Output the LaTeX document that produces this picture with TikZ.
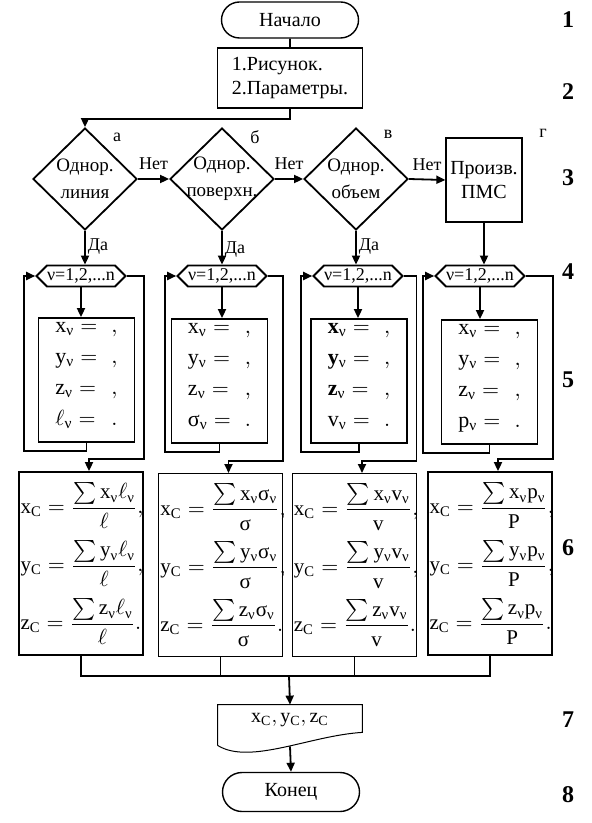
\documentclass[tikz,border=0pt]{standalone}
\usepackage{amsmath}
\usepackage{fontspec}
\setmainfont{Liberation Serif}
\usetikzlibrary{shapes.geometric,shapes.symbols,shapes.misc,arrows.meta}
\newcommand\nuv{\text{ν}}
\newcommand\sig{\text{σ}}
\newcommand\crow[4]{$\mathrm{#1}_{\mathrm{C}}=\dfrac{\sum #2}{#3}#4$}
\begin{document}
\begin{tikzpicture}[x=.5pt,y=-.5pt,>={Triangle[length=4.5pt,width=4pt]},
 every node/.style={font=\fontsize{10}{12}\selectfont,inner sep=2pt},
 thk/.style={line width=.9pt},
 thn/.style={line width=.5pt},
 term/.style={rounded rectangle,draw,line width=.7pt,minimum width=72.5pt,minimum height=18pt},
 proc/.style={rectangle,draw,thk,align=center},
 cond/.style={diamond,draw,thk,align=center,inner sep=-3pt,minimum width=52pt,minimum height=51pt,
  font=\fontsize{9.5}{13.5}\selectfont},
 cyc/.style={signal,signal to=west and east,draw,thk,inner xsep=-3pt,inner ysep=1pt,
  minimum width=44.5pt,minimum height=10.5pt,font=\fontsize{9}{10}\selectfont},
 blk/.style={rectangle,draw,thk,minimum width=48pt,minimum height=62pt},
 lst/.style={inner sep=0pt,font=\fontsize{11}{13}\selectfont},
 res/.style={rectangle,draw,thn,minimum width=62pt,minimum height=91.5pt},
 fml/.style={anchor=west,inner sep=0pt,font=\fontsize{10.5}{12.5}\selectfont},
 arr/.style={->,thk},
 tag/.style={font=\fontsize{9}{10}\selectfont,inner sep=1pt},
 num/.style={font=\fontsize{12}{14}\selectfont\bfseries}]
\useasboundingbox (0,0) rectangle (591,823);
% start and input
\node[term] (beg) at (290,20) {Начало};
\node[proc,align=left,minimum width=72.5pt,minimum height=30pt] (par) at (290,78)
 {1.Рисунок.\\2.Параметры.};
\draw[thk] (beg) -- (par);
% conditions
\node[cond] (da) at (85,179) {Однор.\\линия};
\node[cond] (db) at (222,179) {Однор.\\поверхн.};
\node[cond] (dv) at (356,179) {Однор.\\объем};
\node[proc,minimum width=32.5pt,minimum height=42pt] (dg) at (484,180) {Произв.\\ПМС};
\node[tag] (la) at (117,137) {а};
\node[tag] (lb) at (255,137) {б};
\node[tag] (lv) at (388,134) {в};
\node[tag] (lg) at (543,133) {г};
\draw[arr] (par.south) -- ++(0,10) -| (da.north);
\draw[arr] (da.east) -- node[tag,above=3pt]{Нет} (db.west);
\draw[arr] (db.east) -- node[tag,above=3pt]{Нет} (dv.west);
\draw[arr] (dv.east) -- node[tag,above=3pt]{Нет} (dg.west);
% loops
\node[cyc] (ha) at (81,276) {ν=1,2,...n};
\node[cyc] (hb) at (222,276) {ν=1,2,...n};
\node[cyc] (hv) at (358,276) {ν=1,2,...n};
\node[cyc] (hg) at (480,276) {ν=1,2,...n};
\draw[arr] (da.south) -- node[tag,right,pos=.45]{Да} (da.south |- ha.north);
\draw[arr] (db.south) -- node[tag,right,pos=.55]{Да} (db.south |- hb.north);
\draw[arr] (dv.south) -- node[tag,right,pos=.45]{Да} (dv.south |- hv.north);
\draw[arr] (dg.south) -- (dg.south |- hg.north);
\node[blk] (ra) at (86.5,380) {};
\node[blk] (rb) at (219.5,381) {};
\node[blk] (rv) at (359,381) {};
\node[blk] (rg) at (489.5,382) {};
\node[lst] (ta) at ([yshift=3pt]ra.center) {$\begin{array}{@{}l@{\hspace{7pt}}l@{}}
 \mathrm{x}_{\nuv}= & ,\\[2.5pt] \mathrm{y}_{\nuv}= & ,\\[2.5pt]
 \mathrm{z}_{\nuv}= & ,\\[2.5pt] \ell_{\nuv}= & .\end{array}$};
\node[lst] (tb) at ([yshift=3pt]rb.center) {$\begin{array}{@{}l@{\hspace{7pt}}l@{}}
 \mathrm{x}_{\nuv}= & ,\\[2.5pt] \mathrm{y}_{\nuv}= & ,\\[2.5pt]
 \mathrm{z}_{\nuv}= & ,\\[2.5pt] \sig_{\nuv}= & .\end{array}$};
\node[lst] (tv) at ([yshift=3pt]rv.center) {$\begin{array}{@{}l@{\hspace{7pt}}l@{}}
 \mathbf{x}_{\nuv}= & \mathbf{,}\\[2.5pt] \mathbf{y}_{\nuv}= & \mathbf{,}\\[2.5pt]
 \mathbf{z}_{\nuv}= & \mathbf{,}\\[2.5pt] \mathrm{v}_{\nuv}= & .\end{array}$};
\node[lst] (tg) at ([yshift=3pt]rg.center) {$\begin{array}{@{}l@{\hspace{7pt}}l@{}}
 \mathrm{x}_{\nuv}= & ,\\[2.5pt] \mathrm{y}_{\nuv}= & ,\\[2.5pt]
 \mathrm{z}_{\nuv}= & ,\\[2.5pt] \mathrm{p}_{\nuv}= & .\end{array}$};
% centre of gravity
\node[res,thk] (sa) at (81,563.5) {};
\node[res] (sb) at (220.5,565) {};
\node[res] (sv) at (354,565) {};
\node[res,thk] (sg) at (490,563.5) {};
\foreach \c in {a,b,v,g}{
 \draw[arr] (h\c.south) -- (h\c.south |- r\c.north);
 \draw[arr] (r\c.south) -- ++(0,8) -| ([xshift=-5.5pt]h\c.west) -- (h\c.west);
 \draw[arr] (h\c.east) -| ([yshift=6pt]s\c.north east) -| ([xshift=4pt]s\c.north);
}
\node[fml] (xa) at ([xshift=1pt,yshift=29pt]sa.west) {\crow{x}{\mathrm{x}_{\nuv}\ell_{\nuv}}{\ell}{,}};
\node[fml] (ya) at ([xshift=1pt]sa.west) {\crow{y}{\mathrm{y}_{\nuv}\ell_{\nuv}}{\ell}{,}};
\node[fml] (za) at ([xshift=1pt,yshift=-29pt]sa.west) {\crow{z}{\mathrm{z}_{\nuv}\ell_{\nuv}}{\ell}{.}};
\node[fml] (xb) at ([xshift=1pt,yshift=29pt]sb.west) {\crow{x}{\mathrm{x}_{\nuv}\sig_{\nuv}}{\sig}{,}};
\node[fml] (yb) at ([xshift=1pt]sb.west) {\crow{y}{\mathrm{y}_{\nuv}\sig_{\nuv}}{\sig}{,}};
\node[fml] (zb) at ([xshift=1pt,yshift=-29pt]sb.west) {\crow{z}{\mathrm{z}_{\nuv}\sig_{\nuv}}{\sig}{.}};
\node[fml] (xv) at ([xshift=1pt,yshift=29pt]sv.west) {\crow{x}{\mathrm{x}_{\nuv}\mathrm{v}_{\nuv}}{\mathrm{v}}{,}};
\node[fml] (yv) at ([xshift=1pt]sv.west) {\crow{y}{\mathrm{y}_{\nuv}\mathrm{v}_{\nuv}}{\mathrm{v}}{,}};
\node[fml] (zv) at ([xshift=1pt,yshift=-29pt]sv.west) {\crow{z}{\mathrm{z}_{\nuv}\mathrm{v}_{\nuv}}{\mathrm{v}}{.}};
\node[fml] (xg) at ([xshift=1pt,yshift=29pt]sg.west) {\crow{x}{\mathrm{x}_{\nuv}\mathrm{p}_{\nuv}}{\mathrm{P}}{,}};
\node[fml] (yg) at ([xshift=1pt]sg.west) {\crow{y}{\mathrm{y}_{\nuv}\mathrm{p}_{\nuv}}{\mathrm{P}}{,}};
\node[fml] (zg) at ([xshift=1pt,yshift=-29pt]sg.west) {\crow{z}{\mathrm{z}_{\nuv}\mathrm{p}_{\nuv}}{\mathrm{P}}{.}};
% output and end
\coordinate (bus) at (289,676);
\draw[thk] (sa.south) |- (bus) -| (sg.south);
\draw[thn] (sb.south) -- (sb.south |- bus);
\draw[thn] (sv.south) -- (sv.south |- bus);
\node[minimum width=72pt,minimum height=15pt,inner sep=0pt] (doc) at (290,720)
 {$\mathrm{x}_{\mathrm{C}},\mathrm{y}_{\mathrm{C}},\mathrm{z}_{\mathrm{C}}$};
\draw[thn] ([yshift=-5pt]doc.south west) -- (doc.north west) -- (doc.north east) --
 ([yshift=1.5pt]doc.south east) .. controls +(-52,3) and +(32,20) .. ([yshift=-5pt]doc.south west);
\draw[arr] (bus) -- (doc.north);
\node[term,minimum height=19.5pt] (fin) at (291,792) {Конец};
\draw[arr] ([yshift=-5.5pt]doc.south) -- (fin.north);
% step numbers
\node[num] (n1) at (568,20) {1};
\node[num] (n2) at (568,92) {2};
\node[num] (n3) at (568,178) {3};
\node[num] (n4) at (568,272) {4};
\node[num] (n5) at (568,380) {5};
\node[num] (n6) at (568,548) {6};
\node[num] (n7) at (568,720) {7};
\node[num] (n8) at (568,795) {8};
\end{tikzpicture}
\end{document}
